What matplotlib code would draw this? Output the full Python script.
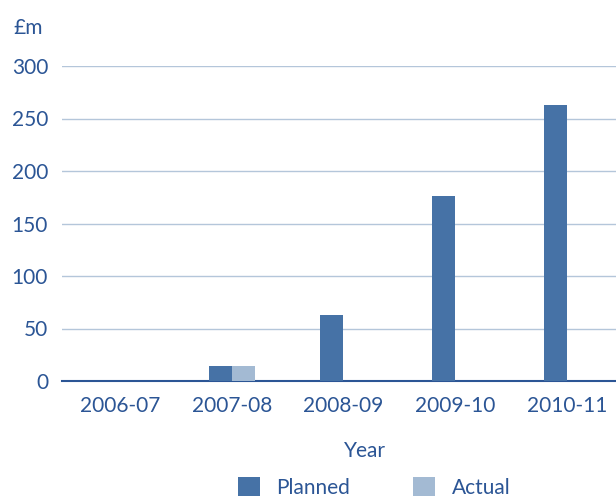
import numpy as np
import matplotlib.pyplot as plt

# data (£m)
years = ['2006-07', '2007-08', '2008-09', '2009-10', '2010-11']
planned = [0, 14, 63, 176, 263]
actual = [0, 14, 0, 0, 0]

text_col = '#2b5595'
planned_col = '#4672a6'
actual_col = '#a3bad3'

plt.rcParams['font.family'] = ['Lato', 'DejaVu Sans']

fig = plt.figure(figsize=(6.16, 5), dpi=100)
ax = fig.add_axes([0.1006, 0.238, 0.8994, 0.63])

x = np.arange(len(years))
width = 0.206
ax.bar(x - width / 2, planned, width, color=planned_col, label='Planned', zorder=3)
ax.bar(x + width / 2, actual, width, color=actual_col, label='Actual', zorder=3)

ax.set_xlim(-0.52, 4.44)
ax.set_ylim(0, 300)
ax.set_yticks(range(0, 301, 50))
ax.set_xticks(x)
ax.set_xticklabels(years)
ax.yaxis.grid(True, color='#b4c6da', linewidth=1)
ax.set_axisbelow(True)

for side in ['top', 'right', 'left']:
    ax.spines[side].set_visible(False)
ax.spines['bottom'].set_color(text_col)
ax.spines['bottom'].set_linewidth(1.5)
ax.tick_params(axis='both', length=0, labelsize=15, colors=text_col)
ax.tick_params(axis='y', pad=10)
ax.tick_params(axis='x', pad=11)

ax.set_xlabel('Year', fontsize=15, color=text_col)
ax.xaxis.set_label_coords(0.547, -0.19)
fig.text(0.022, 0.945, '£m', fontsize=15, color=text_col, va='center')

leg = fig.legend(*ax.get_legend_handles_labels(), loc='upper left',
                 bbox_to_anchor=(238 / 616, 1 - 477 / 500), ncol=2,
                 frameon=False, fontsize=15, handlelength=1.05, handleheight=1.05,
                 columnspacing=3.0, handletextpad=0.8,
                 borderpad=0, borderaxespad=0)
for t in leg.get_texts():
    t.set_color(text_col)

fig.savefig('out.png', dpi=100)
